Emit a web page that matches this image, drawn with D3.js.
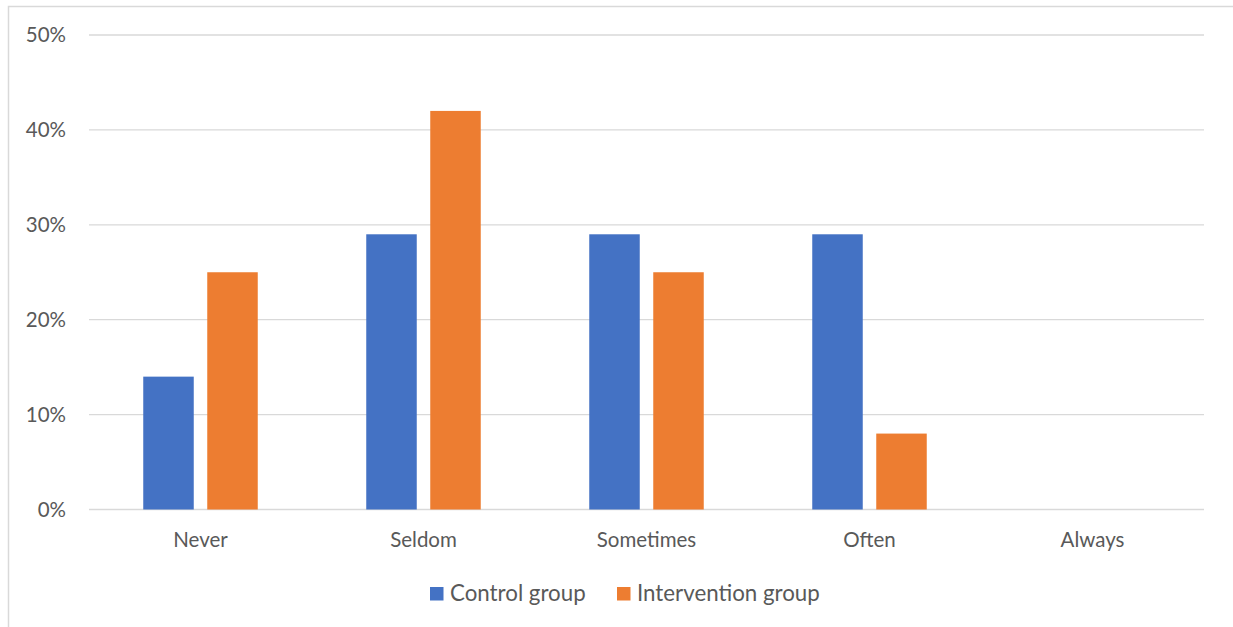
<!DOCTYPE html>
<html>
<head>
<meta charset="utf-8">
<script src="https://cdn.jsdelivr.net/npm/d3@7"></script>
<style>
  html, body { margin: 0; padding: 0; background: #fff; }
  svg text { font-family: Lato, "Open Sans", sans-serif; fill: #595959; }
</style>
</head>
<body>
<svg id="chart" width="1233" height="627"></svg>
<script>
// Frequency categories and the share of each group answering them
const categories = ["Never", "Seldom", "Sometimes", "Often", "Always"];
const seriesNames = ["Control group", "Intervention group"];
const controlValues = [0.14, 0.29, 0.29, 0.29, 0];
const interventionValues = [0.25, 0.42, 0.25, 0.08, 0];
const yTicks = [0, 0.1, 0.2, 0.3, 0.4, 0.5];
const colors = ["#4472C4", "#ED7D31"];

const svg = d3.select("#chart");
const W = 1233, H = 627;

// outer chart frame
svg.append("rect")
  .attr("x", 8.5).attr("y", 6.5)
  .attr("width", W - 8.5 + 5).attr("height", H)
  .attr("fill", "none").attr("stroke", "#D9D9D9").attr("stroke-width", 1.5);

const plot = { left: 89, right: 1204, top: 35, bottom: 509.5 };

const x = d3.scaleBand().domain(categories).range([plot.left, plot.right]).paddingInner(0).paddingOuter(0);
const y = d3.scaleLinear().domain([0, 0.5]).range([plot.bottom, plot.top]);

const barW = 50.5, barGap = 13.5;

// horizontal gridlines
svg.append("g").selectAll("line").data(yTicks).join("line")
  .attr("x1", plot.left).attr("x2", plot.right)
  .attr("y1", d => y(d)).attr("y2", d => y(d))
  .attr("stroke", "#D9D9D9").attr("stroke-width", 1.3);

// y-axis labels
const yAxis = d3.axisLeft(y).tickValues(yTicks).tickFormat(d3.format(".0%")).tickSize(0).tickPadding(23);
const gy = svg.append("g").attr("transform", `translate(${plot.left},0)`).call(yAxis);
gy.select(".domain").remove();
gy.attr("font-size", null).attr("font-family", null);
gy.selectAll("text").style("font-size", "20.5px").style("font-family", "Lato, sans-serif").attr("fill", "#595959");

// category labels
const xAxis = d3.axisBottom(x).tickSize(0).tickPadding(23);
const gx = svg.append("g").attr("transform", `translate(0,${plot.bottom})`).call(xAxis);
gx.select(".domain").remove();
gx.attr("font-size", null).attr("font-family", null);
gx.selectAll("text").style("font-size", "20.5px").style("font-family", "Lato, sans-serif").attr("fill", "#595959");

// bars
const series = [controlValues, interventionValues];
series.forEach((vals, si) => {
  svg.append("g").selectAll("rect").data(categories).join("rect")
    .attr("x", (c) => x(c) + x.bandwidth() / 2 + (si === 0 ? -(barGap / 2 + barW) : barGap / 2))
    .attr("y", (c, i) => y(vals[i]))
    .attr("width", barW)
    .attr("height", (c, i) => y(0) - y(vals[i]))
    .attr("fill", colors[si]);
});

// legend
const legend = svg.append("g");
const legendItems = [
  { name: seriesNames[0], color: colors[0], x: 430 },
  { name: seriesNames[1], color: colors[1], x: 617 }
];
legendItems.forEach(it => {
  legend.append("rect").attr("x", it.x).attr("y", 587).attr("width", 13.5).attr("height", 13.5).attr("fill", it.color);
  legend.append("text").attr("x", it.x + 20).attr("y", 593).attr("dy", "0.35em")
    .style("font-size", "22.3px").text(it.name);
});
</script>
</body>
</html>
